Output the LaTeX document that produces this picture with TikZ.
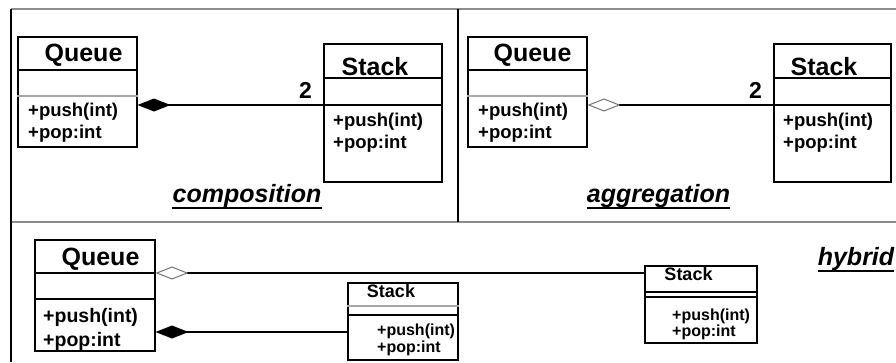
\documentclass[tikz,border=0pt]{standalone}
\usepackage{fontspec}
\setmainfont{Liberation Sans}
\usetikzlibrary{arrows.meta}
\newcommand\myfs[1]{\fontsize{#1}{#1}\selectfont}
\begin{document}
\begin{tikzpicture}[x=1pt,y=-1pt,
  box/.style={draw, line width=1.5pt, inner sep=0, anchor=north west},
  sepline/.style={line width=1.5pt},
  lightsep/.style={line width=1.2pt, black!35},
  frame/.style={line width=2pt, black!45},
  vframe/.style={line width=1.6pt, black},
  comp/.style={line width=1.5pt, {Diamond[length=33pt,width=13pt,fill=black]}-},
  aggr/.style={line width=1.5pt, {Diamond[open,length=33pt,width=13pt,line width=1pt,color=black!55]}-},
  title/.style={font=\myfs{25}\bfseries, anchor=base, inner sep=0},
  smalltitle/.style={font=\myfs{18}\bfseries, anchor=base, inner sep=0},
  meth/.style={font=\myfs{18.5}\bfseries, anchor=base west, inner sep=0},
  bigmeth/.style={font=\myfs{19.5}\bfseries, anchor=base west, inner sep=0},
  smallmeth/.style={font=\myfs{16}\bfseries, anchor=base west, inner sep=0},
  lbl/.style={font=\myfs{25}\bfseries\itshape, anchor=base, inner sep=0},
  mult/.style={font=\myfs{23}\bfseries, anchor=base, inner sep=0},
  uline/.style={line width=1.5pt}
]
\useasboundingbox (0,0) rectangle (896,362);

% frame
\coordinate (ftl) at (11,9);
\coordinate (ftr) at (896,9);
\coordinate (fml) at (11,222);
\coordinate (fmr) at (896,222);
\coordinate (fbl) at (11,362);
\coordinate (fdt) at (458,9);
\coordinate (fdb) at (458,222);
\draw[frame] (ftl) -- (ftr);
\draw[frame] (fml) -- (fmr);
\draw[vframe] (ftl) -- (fbl);
\draw[vframe] (fdt) -- (fdb);

% ---------- composition ----------
\node[box, minimum width=119pt, minimum height=110pt] (q1) at (17,36) {};
\draw[sepline] ([yshift=-34pt]q1.north west) -- ([yshift=-34pt]q1.north east);
\draw[lightsep] ([yshift=-60pt]q1.north west) -- ([yshift=-60pt]q1.north east);
\node[title] (q1t) at (83.5,61) {Queue};
\node[meth] (q1m1) at (28,116) {+push(int)};
\node[meth] (q1m2) at (28,138) {+pop:int};

\node[box, minimum width=118pt, minimum height=138pt] (s1) at (323,43) {};
\draw[sepline] ([yshift=-35pt]s1.north west) -- ([yshift=-35pt]s1.north east);
\draw[sepline] ([yshift=-62pt]s1.north west) -- ([yshift=-62pt]s1.north east);
\coordinate (s1c) at ([yshift=-62pt]s1.north west);
\node[title] (s1t) at (375,75) {Stack};
\node[meth] (s1m1) at (333,126) {+push(int)};
\node[meth] (s1m2) at (333,148) {+pop:int};

\draw[comp] (q1.east |- s1c) -- (s1c);
\node[mult] (m1) at (305.5,98) {2};

\node[lbl] (l1) at (247,202) {composition};
\draw[uline] ([yshift=-6pt]l1.base west) -- ([yshift=-6pt]l1.base east);

% ---------- aggregation ----------
\node[box, minimum width=119pt, minimum height=110pt] (q2) at (467,36) {};
\draw[sepline] ([yshift=-34pt]q2.north west) -- ([yshift=-34pt]q2.north east);
\draw[lightsep] ([yshift=-60pt]q2.north west) -- ([yshift=-60pt]q2.north east);
\node[title] (q2t) at (532.5,61) {Queue};
\node[meth] (q2m1) at (478,116) {+push(int)};
\node[meth] (q2m2) at (478,138) {+pop:int};

\node[box, minimum width=117pt, minimum height=138pt] (s2) at (773,43) {};
\draw[sepline] ([yshift=-35pt]s2.north west) -- ([yshift=-35pt]s2.north east);
\draw[sepline] ([yshift=-62pt]s2.north west) -- ([yshift=-62pt]s2.north east);
\coordinate (s2c) at ([yshift=-62pt]s2.north west);
\node[title] (s2t) at (824,75) {Stack};
\node[meth] (s2m1) at (783,126) {+push(int)};
\node[meth] (s2m2) at (783,148) {+pop:int};

\draw[aggr] (q2.east |- s2c) -- (s2c);
\node[mult] (m2) at (755.5,98) {2};

\node[lbl] (l2) at (658.5,202) {aggregation};
\draw[uline] ([yshift=-6pt]l2.base west) -- ([yshift=-6pt]l2.base east);

% ---------- hybrid ----------
\node[box, minimum width=120pt, minimum height=111pt] (q3) at (34,239) {};
\draw[sepline] ([yshift=-34pt]q3.north west) -- ([yshift=-34pt]q3.north east);
\draw[sepline] ([yshift=-60pt]q3.north west) -- ([yshift=-60pt]q3.north east);
\node[title] (q3t) at (100.5,265) {Queue};
\node[bigmeth] (q3m1) at (43,322) {+push(int)};
\node[bigmeth] (q3m2) at (43,346) {+pop:int};

% middle stack
\node[box, minimum width=110pt, minimum height=77pt] (s3) at (347,282) {};
\draw[lightsep] ([yshift=-24pt]s3.north west) -- ([yshift=-24pt]s3.north east);
\draw[sepline] ([yshift=-33pt]s3.north west) -- ([yshift=-33pt]s3.north east);
\coordinate (s3c) at ([yshift=-50pt]s3.north west);
\node[smalltitle] (s3t) at (391,297) {Stack};
\node[smallmeth] (s3m1) at (377,335) {+push(int)};
\node[smallmeth] (s3m2) at (377,352) {+pop:int};

% right stack
\node[box, minimum width=112pt, minimum height=77pt] (s4) at (644,265) {};
\draw[sepline] ([yshift=-27pt]s4.north west) -- ([yshift=-27pt]s4.north east);
\draw[sepline] ([yshift=-32pt]s4.north west) -- ([yshift=-32pt]s4.north east);
\coordinate (s4c) at ([yshift=-8pt]s4.north west);
\node[smalltitle] (s4t) at (688.5,280) {Stack};
\node[smallmeth] (s4m1) at (672,320) {+push(int)};
\node[smallmeth] (s4m2) at (672,336) {+pop:int};

\draw[aggr] (q3.east |- s4c) -- (s4c);
\draw[comp] (q3.east |- s3c) -- (s3c);

\node[lbl] (l3) at (856,265) {hybrid};
\draw[uline] ([yshift=-6pt]l3.base west) -- ([yshift=-6pt]l3.base east);
\end{tikzpicture}
\end{document}
